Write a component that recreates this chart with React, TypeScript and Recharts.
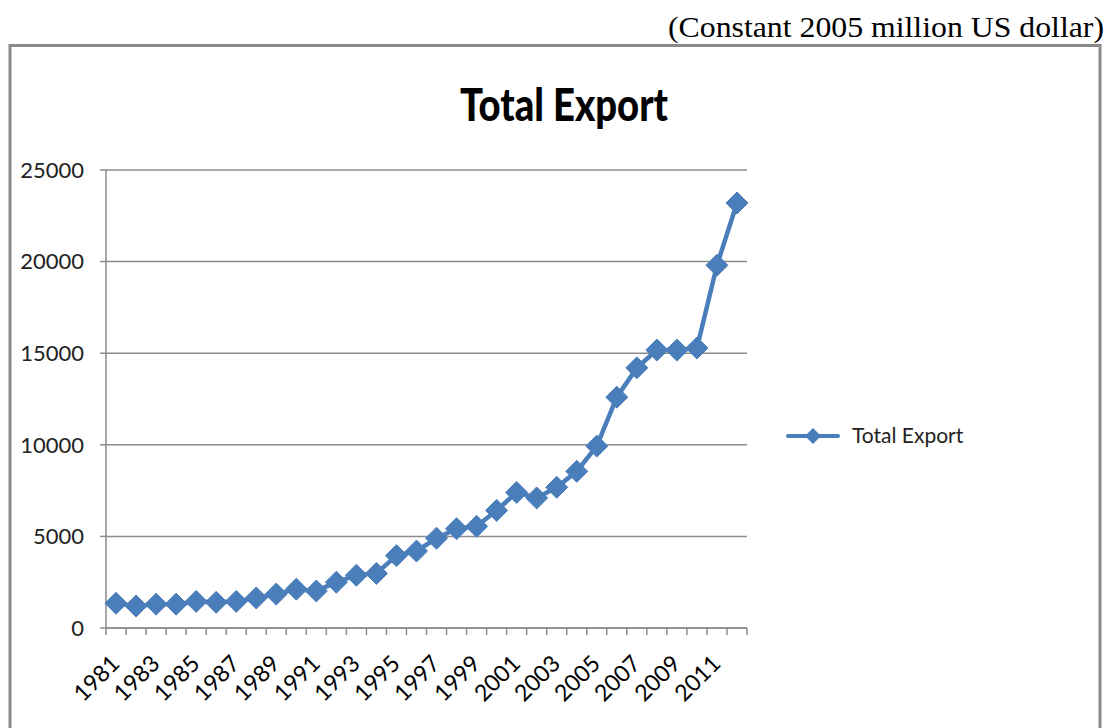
import React from 'react';
import { LineChart, Line, XAxis, YAxis, CartesianGrid, Legend } from 'recharts';

const years = [
  1981, 1982, 1983, 1984, 1985, 1986, 1987, 1988, 1989, 1990, 1991,
  1992, 1993, 1994, 1995, 1996, 1997, 1998, 1999, 2000, 2001, 2002,
  2003, 2004, 2005, 2006, 2007, 2008, 2009, 2010, 2011, 2012,
];
const totalExport = [
  1350, 1200, 1300, 1300, 1450, 1400, 1450, 1640, 1850, 2120, 2020,
  2500, 2880, 2980, 3950, 4200, 4900, 5420, 5550, 6420, 7400, 7100,
  7680, 8550, 9930, 12600, 14200, 15170, 15170, 15280, 19800, 23200,
];
const yTicks = [0, 5000, 10000, 15000, 20000, 25000];
const xLabelYears = [1981, 1983, 1985, 1987, 1989, 1991, 1993, 1995, 1997, 1999, 2001, 2003, 2005, 2007, 2009, 2011];
const seriesName = 'Total Export';
const chartTitle = 'Total Export';
const unitNote = '(Constant 2005 million US dollar)';

const data = years.map((year, i) => ({ year, value: totalExport[i] }));
const boundaries = [...years.map((y) => y - 0.5), years[years.length - 1] + 0.5];
const xDomain = [boundaries[0], boundaries[boundaries.length - 1]];

const BLUE = '#4A7EBB';
const FONT = 'Lato, "Open Sans", sans-serif';

const Diamond = (props: any) => {
  const { cx, cy } = props;
  if (cx == null || cy == null) return null;
  const r = 11;
  return (
    <polygon
      points={`${cx},${cy - r} ${cx + r},${cy} ${cx},${cy + r} ${cx - r},${cy}`}
      fill={BLUE}
      stroke={BLUE}
      strokeWidth={1}
    />
  );
};

const YearTick = (props: any) => {
  const { x, y, payload } = props;
  const ax = x + 5;
  const ay = y;
  return (
    <text
      x={ax}
      y={ay}
      textAnchor="end"
      transform={`rotate(-45 ${ax} ${ay})`}
      fontFamily={FONT}
      fontSize={23}
      fill="#000"
    >
      {payload.value}
    </text>
  );
};

const LegendContent = () => (
  <svg width={200} height={30}>
    <line x1={2} y1={15} x2={52} y2={15} stroke={BLUE} strokeWidth={4} strokeLinecap="round" />
    <polygon points="27,7 35,15 27,23 19,15" fill={BLUE} />
    <text x={66} y={22} fontFamily={FONT} fontSize={21} fill="#222">
      {seriesName}
    </text>
  </svg>
);

export default function App() {
  return (
    <div style={{ position: 'absolute', left: 0, top: 0, width: 1109, height: 728, background: '#fff', overflow: 'hidden' }}>
      <svg width={1109} height={728} style={{ position: 'absolute', left: 0, top: 0 }}>
        <rect x={10} y={45.5} width={1090} height={700} fill="#fff" stroke="#8a8a8a" strokeWidth={3} />
        <text
          x={1104}
          y={37}
          textAnchor="end"
          fontFamily='"Liberation Serif", "Times New Roman", serif'
          fontSize={29}
          textLength={436}
          lengthAdjust="spacingAndGlyphs"
          fill="#000"
        >
          {unitNote}
        </text>
        <text
          x={564}
          y={121}
          textAnchor="middle"
          fontFamily={FONT}
          fontWeight={900}
          fontSize={46}
          textLength={208}
          lengthAdjust="spacingAndGlyphs"
          fill="#000"
        >
          {chartTitle}
        </text>
      </svg>
      <div style={{ position: 'absolute', left: 0, top: 0 }}>
        <LineChart
          width={1109}
          height={728}
          data={data}
          margin={{ top: 170, right: 162, bottom: 29, left: 6 }}
        >
          <CartesianGrid horizontal vertical={false} stroke="#8c8c8c" strokeWidth={1.5} xAxisId="grid" />
          <XAxis
            xAxisId="grid"
            dataKey="year"
            type="number"
            domain={xDomain}
            ticks={boundaries}
            tickFormatter={() => ''}
            tickLine={{ stroke: '#8c8c8c', strokeWidth: 1.5 }}
            tickSize={7}
            height={1}
            stroke="#8c8c8c"
            strokeWidth={1.5}
            interval={0}
          />
          <XAxis
            xAxisId="labels"
            dataKey="year"
            type="number"
            domain={xDomain}
            ticks={xLabelYears}
            tickLine={false}
            axisLine={false}
            tickSize={0}
            tickMargin={36}
            height={70}
            interval={0}
            tick={<YearTick />}
          />
          <YAxis
            domain={[0, 25000]}
            ticks={yTicks}
            width={100}
            tickSize={6}
            tickMargin={16}
            stroke="#8c8c8c"
            strokeWidth={1.5}
            tick={{ fontFamily: FONT, fontSize: 22, fill: '#222' }}
            interval={0}
          />
          <Legend
            layout="vertical"
            align="right"
            verticalAlign="top"
            content={<LegendContent />}
            wrapperStyle={{ left: 786, top: 421, width: 200 }}
          />
          <Line
            xAxisId="grid"
            type="linear"
            dataKey="value"
            name={seriesName}
            stroke={BLUE}
            strokeWidth={4.5}
            dot={<Diamond />}
            activeDot={false}
            isAnimationActive={false}
          />
        </LineChart>
      </div>
    </div>
  );
}
